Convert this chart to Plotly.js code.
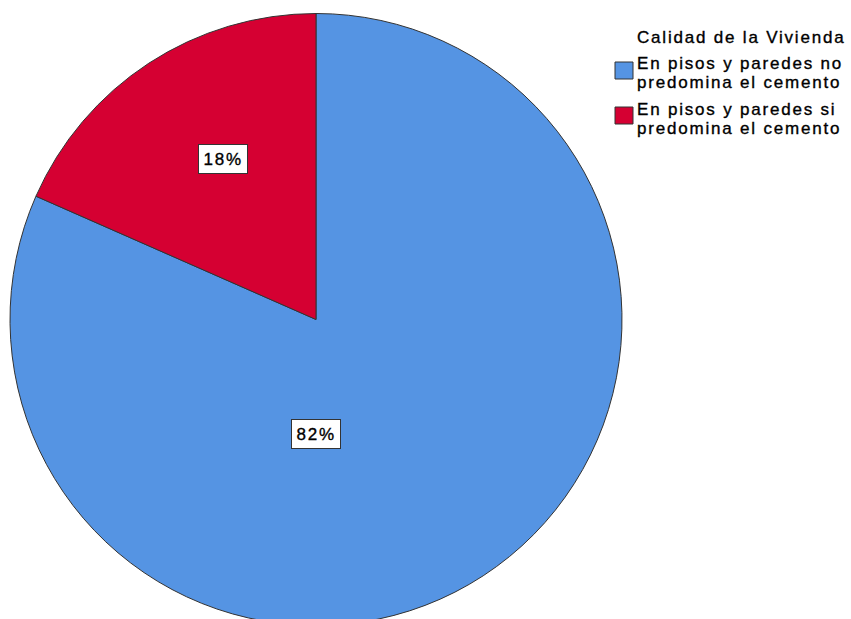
<!DOCTYPE html>
<html>
<head>
<meta charset="utf-8">
<script src="https://cdn.plot.ly/plotly-3.0.1.min.js"></script>
<style>
html, body { margin: 0; padding: 0; overflow: hidden; background: #fff; }
#chart { width: 851px; height: 640px; }
.annotation-text { stroke: #000; stroke-width: 0.35px; letter-spacing: 1.8px; }
</style>
</head>
<body>
<div id="chart"></div>
<script>
// ---- data ----
const legendTitle = "Calidad de la Vivienda";
const categories = [
  "En pisos y paredes no<br>predomina el cemento",
  "En pisos y paredes si<br>predomina el cemento"
];
const values = [81.6, 18.4];
const colors = ["#5594E3", "#D50032"];

// ---- layout helpers ----
const W = 851, H = 640;
const px = x => x / W;
const py = y => 1 - y / H;

const total = values.reduce((a, b) => a + b, 0);
const pctText = values.map(v => Math.round(v / total * 100) + "%");

const trace = {
  type: "pie",
  labels: categories,
  values: values,
  sort: false,
  direction: "clockwise",
  rotation: 0,
  marker: { colors: colors, line: { color: "#333333", width: 1 } },
  textinfo: "none",
  hoverinfo: "label+percent",
  domain: { x: [px(10), px(622)], y: [py(625.5), py(13.5)] },
  showlegend: false
};

const font = { family: "Liberation Sans, Arial, sans-serif", size: 17, color: "#000" };
const LINE_GAP = 19;

// percentage label boxes (pixel centres of the reference labels)
const labelPos = [[315.5, 433.5], [222.5, 158.5]];
const annotations = pctText.map((t, i) => ({
  text: t, xref: "paper", yref: "paper",
  x: px(labelPos[i][0]), y: py(labelPos[i][1]),
  xanchor: "center", yanchor: "middle", showarrow: false,
  font: font, bgcolor: "#ffffff", bordercolor: "#333333", borderwidth: 1, borderpad: 4.5
}));

// custom legend
const legX = 635;
annotations.push({
  text: legendTitle, xref: "paper", yref: "paper", x: px(legX), y: py(26.5),
  xanchor: "left", yanchor: "top", showarrow: false, font: font
});
const itemTopY = [52, 97.5];
const squareY = [[62, 79], [107, 124]];
const shapes = [];
categories.forEach((c, i) => {
  annotations.push({
    text: c, xref: "paper", yref: "paper", x: px(legX), y: py(itemTopY[i]),
    xanchor: "left", yanchor: "top", align: "left", showarrow: false, font: font
  });
  shapes.push({
    type: "rect", xref: "paper", yref: "paper",
    x0: px(615), x1: px(633), y0: py(squareY[i][1]), y1: py(squareY[i][0]),
    fillcolor: colors[i], line: { color: "#333333", width: 1 }
  });
});

const layout = {
  width: W, height: H,
  margin: { l: 0, r: 0, t: 0, b: 0 },
  paper_bgcolor: "#ffffff",
  showlegend: false,
  annotations: annotations,
  shapes: shapes,
  font: font
};

Plotly.newPlot("chart", [trace], layout, { displayModeBar: false, staticPlot: true }).then(gd => {
  // tighten the line spacing of the two-line legend labels
  gd.querySelectorAll(".annotation-text").forEach(t => {
    const lines = t.querySelectorAll("tspan.line");
    lines.forEach((ln, i) => ln.setAttribute("dy", String(i * LINE_GAP)));
  });
});
</script>
</body>
</html>
